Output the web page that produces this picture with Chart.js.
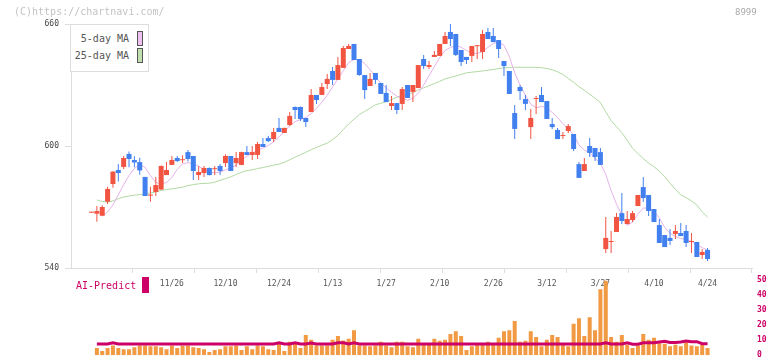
<!DOCTYPE html>
<html><head><meta charset="utf-8">
<script src="https://cdn.jsdelivr.net/npm/chart.js@4.4.1/dist/chart.umd.min.js"></script>
<style>
html,body{margin:0;padding:0;background:#fff;width:772px;height:361px;overflow:hidden;position:relative;font-family:"DejaVu Sans Mono",monospace;}
canvas{position:absolute;left:0;}
#main{top:0;}
#vol{top:270px;}
.t{position:absolute;white-space:pre;}
#legend{position:absolute;left:70px;top:24px;width:79px;height:48px;box-sizing:border-box;border:1px solid #ddd;background:#fff;}
.lt{position:absolute;left:0;width:58px;text-align:right;font-size:10px;line-height:15px;color:#555;white-space:pre;}
.sw{position:absolute;left:66px;width:4px;height:13px;border:1px solid #555;}
</style></head><body>
<canvas id="main" width="772" height="300"></canvas>
<canvas id="vol" width="772" height="95"></canvas>
<div class="t" style="left:14px;top:6px;font-size:10px;line-height:12px;color:#c4c4c4">(C)https://chartnavi.com/</div>
<div class="t" style="left:735px;top:6px;font-size:9px;line-height:12px;color:#aaa">8999</div>
<div id="legend"></div>
<div class="t" id="aiText" style="left:76px;top:279px;font-size:10px;line-height:14px;color:#cc0066"></div>
<div style="position:absolute;left:142px;top:277px;width:7px;height:16px;background:#cc0066"></div>
<script>
const dates = ['11/26','12/10','12/24','1/13','1/27','2/10','2/26','3/12','3/27','4/10','4/24'];
const dateIdx = [15,25,35,45,55,65,75,85,95,105,115];

const open = [567.2,566.7,565.7,572.6,581.3,588.2,589.7,596.1,593.1,592.1,
584.8,575.6,577.4,578.6,585.7,590.7,594.1,593.0,597.0,595.1,
585.7,586.7,589.2,588.6,590.2,591.6,595.1,591.6,590.7,597.0,
595.6,595.6,601.0,603.9,603.4,608.9,606.4,610.3,619.2,619.2,
613.8,616.7,625.1,625.1,630.5,636.9,632.5,638.4,647.7,650.2,
642.8,634.9,629.5,635.9,631.0,626.1,619.7,621.1,620.7,630.0,
626.6,628.5,642.8,638.9,643.8,644.3,650.2,656.1,655.1,647.2,
643.8,644.3,649.1,646.2,656.1,654.1,652.1,641.8,636.9,616.2,
629.0,623.1,609.3,623.1,625.1,622.1,610.8,607.9,604.9,607.4,
605.9,591.1,587.7,600.0,599.0,597.0,549.3,552.8,557.7,567.0,
561.6,563.6,570.5,579.8,575.9,569.0,561.1,556.2,554.8,556.7,
557.2,558.2,552.8,552.8,546.4,548.9];
const high = [567.2,570.5,570.8,580.0,587.6,591.2,595.1,597.3,595.0,594.2,
584.8,580.0,584.8,590.4,592.1,595.1,595.1,595.5,598.0,595.1,
590.2,590.2,589.4,590.2,591.1,596.0,595.1,597.0,597.2,600.0,
600.0,602.0,603.9,604.9,608.9,613.8,609.0,616.7,619.4,619.4,
613.8,628.0,625.1,631.0,635.4,638.9,643.8,649.2,650.2,650.2,
642.8,634.9,635.9,635.9,631.0,630.0,624.6,621.1,629.0,630.0,
630.0,639.8,644.8,641.8,646.7,650.2,656.1,660.0,655.1,647.2,
643.8,649.2,649.4,657.0,658.0,658.0,652.1,641.8,636.9,620.2,
630.0,625.1,618.2,624.6,629.0,622.1,613.8,608.9,606.9,610.8,
605.9,592.1,594.1,603.9,599.0,599.0,565.1,558.2,567.0,576.9,
568.0,568.0,575.9,584.8,575.9,569.0,564.1,556.2,559.2,561.1,
562.1,561.1,557.2,552.8,549.3,549.8];
const low = [567.2,562.8,565.7,571.5,579.5,582.5,588.7,589.5,589.5,585.9,
575.4,572.6,575.4,578.4,585.7,590.7,592.1,591.6,592.4,583.3,
583.3,584.8,585.5,585.7,585.7,589.7,587.7,589.7,590.5,595.6,
593.1,593.6,599.5,602.0,602.0,606.9,606.4,609.8,613.3,612.3,
609.3,616.7,620.7,625.1,628.0,630.0,632.5,638.4,647.7,642.3,
634.5,623.1,629.5,630.5,625.6,621.6,617.7,615.7,617.7,623.6,
621.6,628.5,637.9,637.9,643.8,644.3,650.2,649.2,644.3,639.3,
640.3,641.3,642.8,642.8,652.6,651.1,643.3,634.4,625.6,603.4,
622.6,617.7,603.4,615.7,621.6,613.3,608.4,603.4,603.4,606.4,
597.5,584.3,587.7,594.6,592.6,590.7,547.4,547.4,557.7,561.6,
561.6,562.6,570.5,572.5,565.6,562.6,552.3,550.3,551.3,554.3,
555.7,550.3,547.4,545.4,544.4,543.4];
const close = [567.2,568.0,570.0,578.9,587.4,586.7,594.1,593.6,591.9,588.0,
575.4,576.0,580.8,590.2,588.2,593.1,592.6,593.1,593.6,587.7,
587.2,589.2,585.7,588.8,587.7,595.1,587.7,594.1,597.0,595.6,
597.0,601.0,599.5,602.4,606.9,606.9,608.9,614.8,617.7,613.3,
611.8,625.1,622.6,629.0,633.0,632.5,639.8,648.2,649.2,642.3,
634.9,627.5,633.0,632.5,625.6,621.6,621.1,617.7,628.0,623.6,
630.0,639.8,639.3,639.8,644.8,650.2,654.1,652.6,644.8,641.3,
642.3,649.2,649.2,655.1,652.6,651.1,647.7,639.3,625.6,608.4,
627.0,620.7,613.8,623.1,621.6,613.3,609.3,603.4,604.9,609.8,
598.5,584.3,591.1,596.6,594.6,590.7,554.8,552.8,565.1,563.1,
564.1,567.0,575.9,574.4,568.0,562.6,552.3,550.3,553.3,558.2,
555.7,552.3,552.8,545.4,547.9,544.4];

const ma5 = [null,null,565.5,567.5,571,576,581,585.5,589,590.8,
589.5,585.5,582,581.5,582,584.5,588.5,591.2,591.8,591.2,
590,588.5,587.2,586.8,587.2,588.3,589.2,590.5,593,595,
596.5,597.8,599,600.3,602,604.5,607,610,612,613,
614,616,618.5,621.5,625,629,633,637,641,642.5,
642.5,640.5,637.5,634,631,628.5,626.5,624.5,623.5,622.5,
623.5,626,630,634.5,639,643.5,647,648.5,649.3,648.6,
647,645.8,645.5,646.5,648.5,650.5,651,649.5,644,636,
630,625,620.5,618.8,619.5,618.8,616.5,614,611,608.5,
605.5,600.5,598,596.5,594,591.5,586,578,571.5,566,
561,562.5,566.5,569.5,569.5,568,564.5,560,557,555.5,
554.5,554,553,551.5,550,548.8];
const ma25 = [null,573.5,572.7,572.4,573.0,574.1,574.9,575.4,575.8,576.1,
576.4,576.9,577.4,578.1,578.6,578.9,579.3,579.8,580.5,581.0,
581.4,581.6,581.7,582.2,583.1,584.0,584.8,586.0,587.1,587.9,
588.3,588.9,589.4,590.0,590.6,591.1,592.0,593.2,594.5,595.7,
596.9,598.2,599.3,600.4,601.4,603.2,605.2,608.1,610.8,613.2,
615.5,617.0,618.6,620.3,621.0,621.8,622.8,624.0,624.5,625.0,
626.3,627.6,628.6,629.6,630.7,631.8,633.0,633.7,634.4,635.2,
636.0,636.3,636.6,636.9,637.3,637.6,638.1,638.4,638.6,638.7,
638.7,638.7,638.7,638.7,638.5,638.1,637.5,636.5,635.2,633.2,
631.3,629.2,627.4,625.5,623.5,621.4,616.8,612.5,609.5,606.6,
602.8,598.9,596.3,593.8,591.6,589.8,587.6,585.0,581.7,578.7,
576.0,574.6,573.0,571.0,567.6,565.0];

const volume = [null,4.7,2.8,4.7,6.5,4.7,4.0,4.0,5.3,6.5,
6.5,5.9,5.9,5.3,4.0,6.5,4.7,6.5,6.5,5.3,
4.7,4.0,2.1,3.4,4.0,5.9,5.9,6.5,3.4,5.9,
4.0,6.5,5.9,4.0,3.4,8.4,2.8,9.0,8.4,4.7,
13.4,10.3,6.5,6.5,6.5,10.3,12.7,9.7,10.9,16.5,
6.5,6.5,5.9,6.5,9.0,6.5,5.3,9.0,9.0,5.9,
5.3,10.9,7.0,7.0,10.9,9.6,10.3,14.0,15.8,12.7,
3.4,5.9,7.0,7.0,9.0,7.0,11.5,15.8,16.5,22.7,
9.0,9.6,15.8,12.1,5.9,10.3,13.4,12.1,6.7,5.9,
20.8,24.5,12.7,25.1,16.5,43.8,49.4,12.1,9.0,13.4,
7.0,4.7,6.5,14.0,10.3,11.5,8.0,7.6,5.9,7.0,
5.9,8.4,6.5,5.9,7.0,4.7];
const aiPredict = [null,7.5,7.5,7.5,8.2,7.5,7.5,7.5,7.5,7.5,
7.5,7.5,7.5,7.5,7.5,7.5,7.5,7.5,7.5,7.5,
7.5,7.5,7.5,7.5,7.5,7.5,7.5,7.5,7.5,7.5,
7.5,7.5,7.5,7.5,7.5,8.2,7.5,7.5,8.2,7.5,
7.5,8.0,7.5,7.5,7.5,7.5,8.2,8.2,7.5,8.2,
7.5,7.5,7.5,7.5,7.5,7.5,7.5,7.5,7.5,7.5,
7.5,7.5,7.5,7.5,7.5,7.5,7.5,7.5,7.5,7.5,
7.5,7.5,7.5,7.5,7.5,7.5,7.5,7.5,7.5,7.5,
7.5,7.5,7.5,7.5,7.5,7.5,7.5,7.5,7.5,7.5,
7.5,7.5,7.5,7.5,7.5,7.5,8.2,7.5,7.5,7.5,
8.2,7.3,7.3,8.2,8.2,8.2,8.8,9.3,8.4,8.4,
8.8,9.4,9.0,9.0,7.6,7.6];

const MONO = '"DejaVu Sans Mono", monospace';
const UP = '#f25442', DOWN = '#4280f0';
const XMIN = -3.83, XMAX = 123.3;
const idx = close.map((_, i) => i);
const colors = idx.map(i => close[i] >= open[i] ? UP : DOWN);
const bodies = idx.map(i => ({x: i, y: [Math.min(open[i], close[i]), Math.max(open[i], close[i])]}));
const wicks = idx.map(i => ({x: i, y: [low[i], high[i]]}));
const maDefs = [
  {label: '5-day MA', values: ma5, line: '#e6b2ea', swatch: '#f0c0f0'},
  {label: '25-day MA', values: ma25, line: '#b2d9a3', swatch: '#c0e0b0'}
];

const mainChart = new Chart(document.getElementById('main'), {
  type: 'bar',
  data: {
    datasets: [
      ...maDefs.map(m => ({type: 'line', label: m.label, data: idx.map(i => ({x: i, y: m.values[i]})),
        borderColor: m.line, borderWidth: 1, pointRadius: 0, tension: 0, order: 3})),
      {label: 'wick', data: wicks, backgroundColor: colors, barThickness: 1, minBarLength: 1, grouped: false, inflateAmount: 0, order: 2},
      {label: 'body', data: bodies, backgroundColor: colors, barThickness: 5, minBarLength: 1, grouped: false, inflateAmount: 0, order: 1}
    ]
  },
  options: {
    responsive: false, animation: false, devicePixelRatio: 1,
    layout: {padding: {left: 0, right: 20, top: 24, bottom: 5}},
    plugins: {legend: {display: false}, tooltip: {enabled: false}},
    scales: {
      x: {type: 'linear', position: 'bottom', min: XMIN, max: XMAX, weight: 1, offset: false,
        grid: {display: false, drawTicks: false, offset: false}, border: {display: false},
        ticks: {autoSkip: false, maxRotation: 0, padding: 6, color: '#555', font: {family: MONO, size: 8},
          callback: (v, i) => dates[i]},
        afterBuildTicks: s => { s.ticks = dateIdx.map(v => ({value: v})); },
        afterFit: s => { s.height = 22; }},
      xg: {type: 'linear', position: 'bottom', min: XMIN, max: XMAX, weight: 0, offset: false,
        ticks: {display: false},
        grid: {drawOnChartArea: false, drawTicks: true, tickLength: 5, color: '#ddd', offset: false},
        border: {display: true, color: '#ddd'},
        afterBuildTicks: s => { const t = []; for (let k = 1; k <= 11; k++) t.push({value: XMIN + (XMAX - XMIN) * k / 11}); s.ticks = t; },
        afterFit: s => { s.height = 5; }},
      y: {min: 540, max: 660,
        ticks: {stepSize: 60, padding: 6, color: '#444', font: {family: MONO, size: 8}},
        grid: {drawOnChartArea: false, tickLength: 6, color: '#ddd'},
        border: {color: '#ddd'},
        afterFit: s => { s.width = 71; }}
    }
  }
});

const legend = document.getElementById('legend');
maDefs.forEach((m, k) => {
  const t = document.createElement('div'); t.className = 'lt'; t.style.top = (6 + k * 17) + 'px'; t.textContent = m.label; legend.appendChild(t);
  const s = document.createElement('div'); s.className = 'sw'; s.style.top = (6 + k * 17) + 'px'; s.style.background = m.swatch; legend.appendChild(s);
});

const volChart = new Chart(document.getElementById('vol'), {
  type: 'bar',
  data: {
    datasets: [
      {type: 'line', label: 'AI-Predict', data: idx.map(i => ({x: i, y: aiPredict[i]})), borderColor: '#cc0066',
        borderWidth: 3, pointRadius: 0, tension: 0, order: 0, yAxisID: 'yv'},
      {label: 'Volume', data: idx.map(i => ({x: i, y: volume[i]})), backgroundColor: '#f19a43',
        barThickness: 4, inflateAmount: 0, order: 1, yAxisID: 'yv'}
    ]
  },
  options: {
    responsive: false, animation: false, devicePixelRatio: 1,
    layout: {padding: {left: 71, right: 0, top: 8, bottom: 7}},
    plugins: {legend: {display: false}, tooltip: {enabled: false}},
    scales: {
      x: {type: 'linear', min: XMIN, max: XMAX, display: false, offset: false, grid: {offset: false}},
      yv: {position: 'right', min: 0, max: 50,
        ticks: {stepSize: 10, padding: 5, color: '#cc0066', font: {family: MONO, size: 8, weight: 'bold'}},
        grid: {display: false, drawTicks: false}, border: {display: false},
        afterFit: s => { s.width = 20; }}
    }
  }
});
document.getElementById('aiText').textContent = volChart.data.datasets[0].label;
</script>
</body></html>
